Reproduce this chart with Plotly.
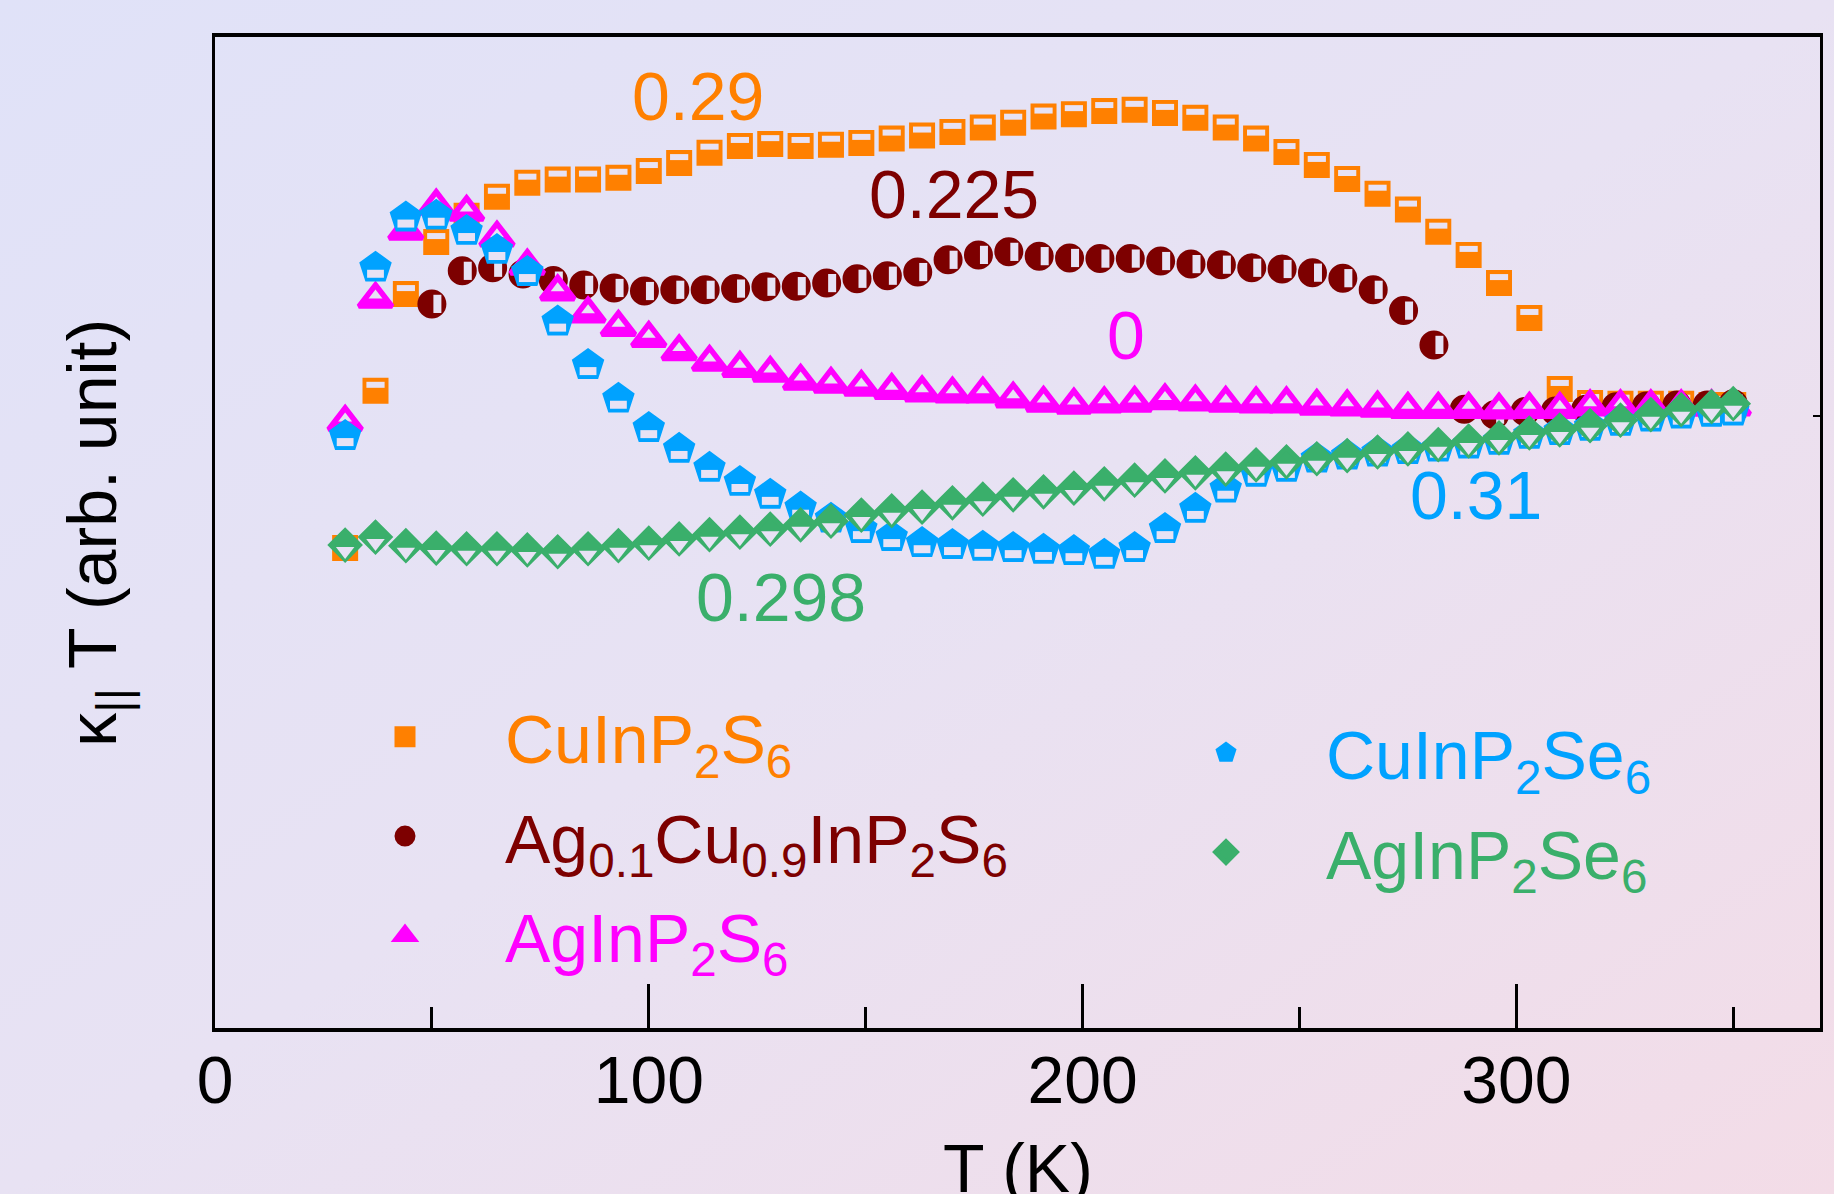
import base64
import plotly.graph_objects as go

# ---------------- data ----------------
T_MAIN = [30, 37, 44, 51, 58, 65, 72, 79, 86, 93, 100, 107, 114, 121, 128, 135, 142, 149,
          156, 163, 170, 177, 184, 191, 198, 205, 212, 219, 226, 233, 240, 247, 254, 261,
          268, 275, 282, 289, 296, 303, 310, 317, 324, 331, 338, 345, 350]
T_CIRC = [50, 57, 64, 71, 78, 85, 92, 99, 106, 113, 120, 127, 134, 141, 148, 155, 162, 169,
          176, 183, 190, 197, 204, 211, 218, 225, 232, 239, 246, 253, 260, 267, 274, 281,
          288, 295, 302, 309, 316, 323, 330, 337, 344, 350]

cuinp2s6 = [0.784, 1.041, 1.199, 1.284, 1.327, 1.358, 1.381, 1.386, 1.386, 1.389,
            1.400, 1.413, 1.430, 1.441, 1.444, 1.441, 1.443, 1.446, 1.453, 1.458,
            1.464, 1.471, 1.479, 1.489, 1.493, 1.498, 1.500, 1.495, 1.487, 1.471,
            1.453, 1.431, 1.410, 1.387, 1.363, 1.337, 1.301, 1.263, 1.217, 1.160,
            1.044, 1.021, 1.020, 1.020, 1.020, 1.018, 1.018]
ag01cu09 = [1.183, 1.237, 1.242, 1.232, 1.221, 1.214, 1.209, 1.204, 1.206, 1.206,
            1.208, 1.211, 1.212, 1.217, 1.224, 1.229, 1.235, 1.255, 1.263, 1.268,
            1.261, 1.258, 1.257, 1.257, 1.253, 1.248, 1.247, 1.242, 1.240, 1.234,
            1.225, 1.206, 1.172, 1.116, 1.011, 1.002, 1.007, 1.008, 1.011, 1.015,
            1.016, 1.018, 1.018, 1.020]
aginp2s6 = [0.990, 1.191, 1.302, 1.343, 1.333, 1.291, 1.245, 1.203, 1.167, 1.145,
            1.127, 1.105, 1.088, 1.078, 1.070, 1.057, 1.052, 1.047, 1.042, 1.038,
            1.036, 1.036, 1.028, 1.021, 1.018, 1.020, 1.021, 1.025, 1.023, 1.021,
            1.020, 1.020, 1.016, 1.015, 1.013, 1.011, 1.011, 1.011, 1.010, 1.011,
            1.011, 1.015, 1.015, 1.015, 1.015, 1.015, 1.015]
cuinp2se6 = [0.967, 1.242, 1.324, 1.327, 1.302, 1.271, 1.235, 1.154, 1.083, 1.028,
             0.980, 0.946, 0.915, 0.892, 0.871, 0.850, 0.832, 0.815, 0.802, 0.792,
             0.789, 0.786, 0.784, 0.781, 0.779, 0.773, 0.784, 0.815, 0.848, 0.881,
             0.907, 0.915, 0.930, 0.935, 0.940, 0.944, 0.948, 0.953, 0.959, 0.969,
             0.975, 0.982, 0.990, 0.997, 1.002, 1.005, 1.007]
aginp2se6 = [0.789, 0.802, 0.788, 0.784, 0.783, 0.783, 0.781, 0.778, 0.783, 0.788,
             0.792, 0.799, 0.806, 0.810, 0.815, 0.822, 0.828, 0.838, 0.845, 0.851,
             0.858, 0.864, 0.871, 0.876, 0.882, 0.889, 0.895, 0.902, 0.907, 0.913,
             0.920, 0.925, 0.930, 0.935, 0.941, 0.946, 0.953, 0.959, 0.964, 0.972,
             0.977, 0.984, 0.993, 1.002, 1.010, 1.015, 1.020]

LABEL_TEXT = ["0.29", "0.225", "0", "0.31", "0.298"]
LABEL_T = [111.3, 170.3, 210.1, 290.8, 130.4]
LABEL_Y = [1.523, 1.363, 1.132, 0.871, 0.704]

X_TICKS = [0, 100, 200, 300]

# ---------------- styles ----------------
ORANGE = "#FF8000"
MAROON = "#7D0000"
MAGENTA = "#FF00FF"
BLUE = "#00A2FF"
GREEN = "#3AAF6B"
LABEL_COLORS = [ORANGE, MAROON, MAGENTA, BLUE, GREEN]
HOLE = "#E7E2F4"
FONT = "Liberation Sans, Arial, Helvetica, sans-serif"
OUTLINE = 5

W, H = 1834, 1194
ML, MR, MT, MB = 215, 14, 37, 166
PW, PH = W - ML - MR, H - MT - MB

fig = go.Figure()


def add_series(x, y, name, color, symbol, size, hole, legend, yaxis="y"):
    grp = name
    fig.add_trace(go.Scatter(
        x=x, y=y, mode="markers", name=name, legend=legend, legendgroup=grp,
        yaxis=yaxis, hoverinfo="skip",
        marker=dict(symbol=symbol, size=size, color=color,
                    line=dict(width=OUTLINE, color=color)),
    ))
    fig.add_trace(go.Scatter(
        x=x, y=y, mode="markers", showlegend=False, legendgroup=grp, yaxis=yaxis,
        hoverinfo="skip",
        marker=dict(symbol=hole["symbol"], size=hole["size"], color=HOLE,
                    angle=hole["angle"], standoff=hole["standoff"],
                    line=dict(width=hole["lw"], color=HOLE)),
    ))


def name_html(txt, color):
    return f'<span style="color:{color}">{txt}</span>'


add_series(T_MAIN, cuinp2s6, name_html("CuInP<sub>2</sub>S<sub>6</sub>", ORANGE), ORANGE,
           "square", 21, dict(symbol="line-ew", size=13, angle=180, standoff=6, lw=6), "legend")
add_series(T_CIRC, ag01cu09,
           name_html("Ag<sub>0.1</sub>Cu<sub>0.9</sub>InP<sub>2</sub>S<sub>6</sub>", MAROON), MAROON,
           "circle", 24, dict(symbol="line-ew", size=13, angle=270, standoff=5.5, lw=8), "legend")
add_series(T_MAIN, aginp2s6, name_html("AgInP<sub>2</sub>S<sub>6</sub>", MAGENTA), MAGENTA,
           "triangle-up", 29, dict(symbol="triangle-down", size=12, angle=180, standoff=3.5, lw=0), "legend")
add_series(T_MAIN, cuinp2se6, name_html("CuInP<sub>2</sub>Se<sub>6</sub>", BLUE), BLUE,
           "pentagon", 28, dict(symbol="line-ew", size=12, angle=0, standoff=6, lw=8), "legend2")
add_series(T_MAIN, aginp2se6, name_html("AgInP<sub>2</sub>Se<sub>6</sub>", GREEN), GREEN,
           "diamond", 22, dict(symbol="triangle-down", size=16, angle=0, standoff=6, lw=0), "legend2",
           yaxis="y2")

# value labels
for txt, tx, ty, col in zip(LABEL_TEXT, LABEL_T, LABEL_Y, LABEL_COLORS):
    fig.add_annotation(x=tx, y=ty, xref="x", yref="y", text=txt, showarrow=False,
                       xanchor="center", yanchor="middle",
                       font=dict(size=68, color=col, family=FONT))

# axis titles
fig.add_annotation(x=0.5, y=-0.141, xref="paper", yref="paper", text="T (K)", showarrow=False,
                   xanchor="center", yanchor="middle", font=dict(size=68, color="black", family=FONT))
fig.add_annotation(x=-0.074, y=0.5, xref="paper", yref="paper",
                   text="\u03ba<sub>||</sub> T (arb. unit)", textangle=-90, showarrow=False,
                   xanchor="center", yanchor="middle", font=dict(size=68, color="black", family=FONT))

# gradient background
svg = (f'<svg xmlns="http://www.w3.org/2000/svg" width="{W}" height="{H}" viewBox="0 0 {W} {H}" '
       'preserveAspectRatio="none"><defs><linearGradient id="g" x1="0" y1="0" x2="1" y2="1">'
       '<stop offset="0" stop-color="#E0E2F8"/><stop offset="0.5" stop-color="#E8E2F3"/>'
       '<stop offset="1" stop-color="#F3DCE7"/></linearGradient></defs>'
       f'<rect width="{W}" height="{H}" fill="url(#g)"/></svg>')
src = "data:image/svg+xml;base64," + base64.b64encode(svg.encode()).decode()
fig.add_layout_image(source=src, xref="paper", yref="paper", x=-ML / PW, y=1 + MT / PH,
                     sizex=W / PW, sizey=H / PH, xanchor="left", yanchor="top",
                     sizing="stretch", layer="below")

legend_common = dict(xanchor="left", yanchor="top", bgcolor="rgba(0,0,0,0)", borderwidth=0,
                     font=dict(size=68, family=FONT, color="black"), itemwidth=190,
                     tracegroupgap=8, itemsizing="trace", traceorder="grouped")

fig.update_layout(
    width=W, height=H, autosize=False,
    margin=dict(l=ML, r=MR, t=MT, b=MB, pad=0),
    paper_bgcolor="#E8E2F3", plot_bgcolor="rgba(0,0,0,0)",
    font=dict(family=FONT, color="black"),
    xaxis=dict(range=[0, 370], tickvals=X_TICKS, ticks="inside", ticklen=44, tickwidth=2.5,
               tickcolor="black", minor=dict(ticks="inside", ticklen=21, tickwidth=2.5,
                                              dtick=50, tick0=0, tickcolor="black"),
               showline=True, linewidth=3.5, linecolor="black", mirror=True,
               showgrid=False, zeroline=False, tickfont=dict(size=66, color="black", family=FONT),
               ticklabelstandoff=-8),
    yaxis=dict(range=[0, 1.619], showticklabels=False, ticks="", showline=True, linewidth=3,
               linecolor="black", mirror=True, showgrid=False, zeroline=False),
    yaxis2=dict(range=[0, 1.619], overlaying="y", side="right", showticklabels=False,
                tickvals=[1.0], ticks="inside", ticklen=7, tickwidth=2, tickcolor="black",
                showline=False, showgrid=False, zeroline=False),
    legend=dict(x=(305 - ML) / PW, y=(H - MB - 686) / PH, **legend_common),
    legend2=dict(x=(1126 - ML) / PW, y=(H - MB - 702) / PH, **legend_common),
)

fig.write_html("out.html", config={"displayModeBar": False},
               post_script="document.body.style.margin='0';document.body.style.overflow='hidden';")
